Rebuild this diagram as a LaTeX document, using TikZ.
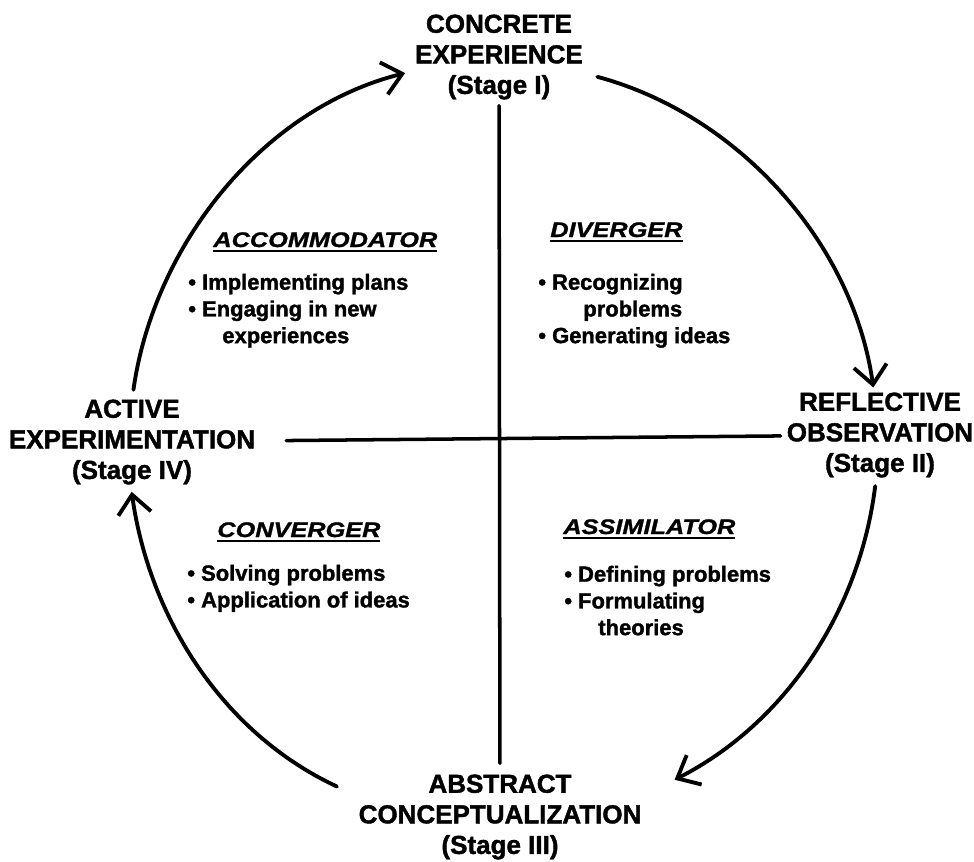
\documentclass[tikz,border=0pt]{standalone}
\usepackage{fontspec}
\setmainfont{Liberation Sans}[BoldFeatures={FakeBold=1.5}]
\newfontfamily\headfont{Liberation Sans}[FakeStretch=1.2, BoldItalicFeatures={FakeBold=1.2}]
\usetikzlibrary{positioning,arrows.meta}
\newcommand{\ulhd}[1]{\setbox0\hbox{#1}\rlap{\rule[-2.9pt]{\wd0}{1.4pt}}\box0}
\newcommand{\more}[1][0.68cm]{\hspace*{#1}}

\begin{document}
\begin{tikzpicture}[x=0.02cm, y=0.02cm,
    stage/.style={align=center, font=\bfseries\fontsize{14.8}{17.4}\selectfont},
    head/.style={anchor=base west, inner sep=0pt, font=\headfont\bfseries\itshape\fontsize{12}{14}\selectfont},
    items/.style={align=left, inner sep=0pt, font=\bfseries\fontsize{12.5}{15.2}\selectfont},
    axis/.style={line width=2pt, line cap=round},
    cyc/.style={line width=2.2pt, line cap=round, -{Straight Barb[length=0.38cm,width=0.66cm]}}]
    \useasboundingbox (0,0) rectangle (974,-862);

    % the four stages
    \node[stage] (ce) at (499,-57) {CONCRETE\\EXPERIENCE\\(Stage I)};
    \node[stage] (ro) at (880,-435) {REFLECTIVE\\OBSERVATION\\(Stage II)};
    \node[stage] (ac) at (500,-817) {ABSTRACT\\CONCEPTUALIZATION\\(Stage III)};
    \node[stage] (ae) at (132,-442) {ACTIVE\\EXPERIMENTATION\\(Stage IV)};

    % the four styles
    \node[head] (accH) at (213,-247) {\ulhd{ACCOMMODATOR}};
    \node[items] (accL) [below right=0.42cm and -0.5cm of accH.south west]
        {\textbullet\ Implementing plans\\ \textbullet\ Engaging in new\\ \more experiences};
    \node[head] (divH) at (550,-237) {\ulhd{DIVERGER}};
    \node[items] (divL) [below right=0.62cm and -0.24cm of divH.south west]
        {\textbullet\ Recognizing\\ \more[0.9cm]problems\\ \textbullet\ Generating ideas};
    \node[head] (conH) at (217,-537) {\ulhd{CONVERGER}};
    \node[items] (conL) [below right=0.44cm and -0.6cm of conH.south west]
        {\textbullet\ Solving problems\\ \textbullet\ Application of ideas};
    \node[head] (asmH) at (563,-534) {\ulhd{ASSIMILATOR}};
    \node[items] (asmL) [below right=0.52cm and 0.02cm of asmH.south west]
        {\textbullet\ Defining problems\\ \textbullet\ Formulating\\ \more theories};

    % axes
    \draw[axis, shorten >=0.1cm] (ce) -- (ac);
    \draw[axis, shorten <=0.5cm] (ae) -- (ro);

    % the learning cycle
    \coordinate (o) at (500,-440);
    \path (o) ++(75:376) coordinate (ce-out)
          (o) ++(8:377) coordinate (ro-in)
          (o) ++(-7:378) coordinate (ro-out)
          (o) ++(-62.8:382) coordinate (ac-in)
          (o) ++(244.8:383) coordinate (ac-out)
          (o) ++(188:372) coordinate (ae-in)
          (o) ++(172.2:370) coordinate (ae-out)
          (o) ++(104.5:379) coordinate (ce-in);
    \draw[cyc] (ce-out) to[out=-15, in=98, looseness=0.9] (ro-in);
    \draw[cyc] (ro-out) to[out=-97, in=27, looseness=0.9] (ac-in);
    \draw[cyc] (ac-out) to[out=155, in=-82, looseness=0.9] (ae-in);
    \draw[cyc] (ae-out) to[out=82, in=-166, looseness=0.9] (ce-in);
\end{tikzpicture}
\end{document}
